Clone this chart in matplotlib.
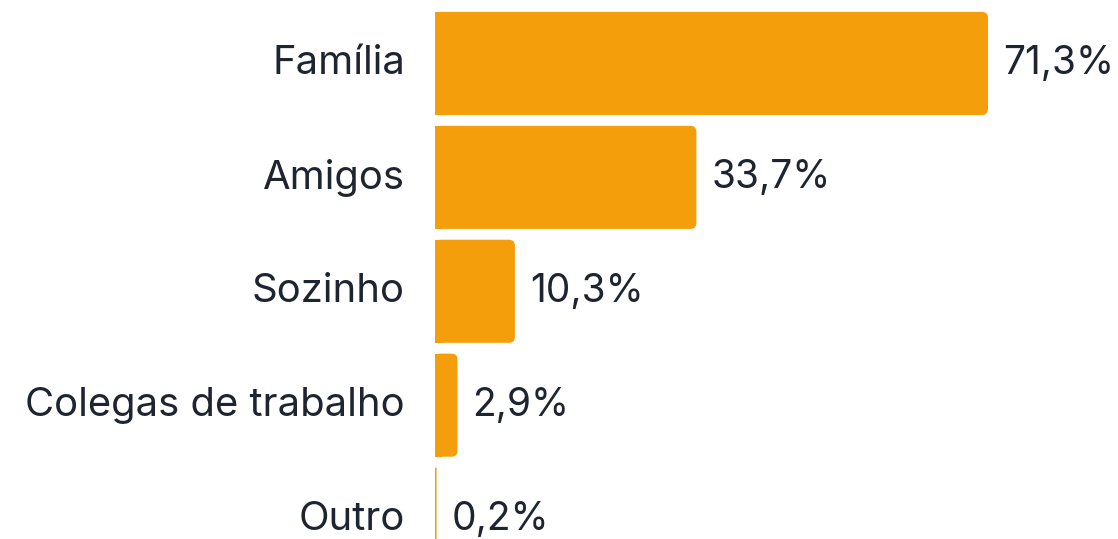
import matplotlib.pyplot as plt
from matplotlib.patches import FancyBboxPatch, Rectangle

categories = ["Família", "Amigos", "Sozinho", "Colegas de trabalho", "Outro"]
values = [71.3, 33.7, 10.3, 2.9, 0.2]
value_labels = ["71,3%", "33,7%", "10,3%", "2,9%", "0,2%"]

bar_color = "#f59e0b"
text_color = "#1e2430"
plt.rcParams['font.family'] = ['Inter', 'DejaVu Sans']

W, H, dpi = 1118, 539, 100
fig = plt.figure(figsize=(W / dpi, H / dpi), dpi=dpi)
ax = fig.add_axes([435 / W, 0, 1 - 435 / W, 1])

xmax = 683 / (553 / 71.3)
ax.set_xlim(0, xmax)
ax.set_ylim(4.175, -0.557)
ax.axis("off")

bar_h = 0.905
# data units per pixel, to keep the rounded corners circular
px_x = xmax / 683
px_y = (4.175 + 0.557) / H
r_px = 6

for i, (v, lab) in enumerate(zip(values, value_labels)):
    y0 = i - bar_h / 2
    r = min(r_px * px_x, v / 2)
    p = FancyBboxPatch((0, y0), v, bar_h,
                       boxstyle="round,pad=0,rounding_size=%f" % r,
                       mutation_aspect=px_y / px_x,
                       facecolor=bar_color, edgecolor="none", clip_on=False)
    ax.add_patch(p)
    # square off the left corners
    ax.add_patch(Rectangle((0, y0), min(r * 1.2, v / 2), bar_h,
                           facecolor=bar_color, edgecolor="none"))
    ty = i - 3.5 * px_y
    ax.text(v + 15 * px_x, ty, lab, ha="left", va="center_baseline",
            fontsize=28, color=text_color)
    ax.text(-30 * px_x, ty, categories[i], ha="right", va="center_baseline",
            fontsize=28.8, color=text_color, clip_on=False)

fig.savefig("out.png", dpi=dpi)
